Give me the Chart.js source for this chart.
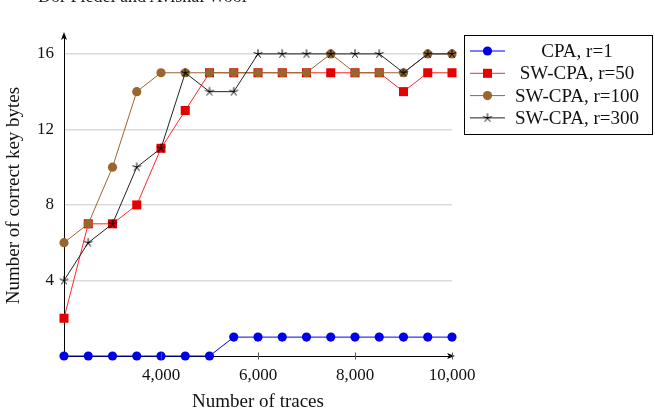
<!DOCTYPE html>
<html>
<head>
<meta charset="utf-8">
<script src="https://cdn.jsdelivr.net/npm/chart.js@4/dist/chart.umd.min.js"></script>
<style>
  html, body { margin: 0; padding: 0; background: #fff; overflow: hidden; }
  #wrap { position: relative; width: 655px; height: 416px; }
  #head { position: absolute; left: 38px; top: -12px; font: 18px 'Liberation Serif', serif; line-height: 17px; color: #222; white-space: nowrap; }
</style>
</head>
<body>
<div id="wrap">
  <canvas id="chart" width="655" height="416"></canvas>
  <div id="head">Dor Fledel and Avishai Wool</div>
</div>
<script>
// traces on the x axis
const traces = [2000, 2500, 3000, 3500, 4000, 4500, 5000, 5500, 6000, 6500, 7000, 7500, 8000, 8500, 9000, 9500, 10000];

const cpaR1     = [0, 0, 0, 0, 0, 0, 0, 1, 1, 1, 1, 1, 1, 1, 1, 1, 1];
const swCpaR50  = [2, 7, 7, 8, 11, 13, 15, 15, 15, 15, 15, 15, 15, 15, 14, 15, 15];
const swCpaR100 = [6, 7, 10, 14, 15, 15, 15, 15, 15, 15, 15, 16, 15, 15, 15, 16, 16];
const swCpaR300 = [4, 6, 7, 10, 11, 15, 14, 14, 16, 16, 16, 16, 16, 16, 15, 16, 16];

const yTicks = [4, 8, 12, 16];
const xTicks = [4000, 6000, 8000, 10000];

const FONT = "'Liberation Serif', serif";
const BLUE = 'rgb(0,0,230)';
const RED = 'rgb(230,0,0)';
const BROWN = '#99662e';

// 5-spoke asterisk like the pgfplots star mark
function makeStar() {
    const c = document.createElement('canvas');
    c.width = 12; c.height = 12;
    const g = c.getContext('2d');
    g.strokeStyle = '#000';
    g.lineWidth = 1;
    g.beginPath();
    for (let k = 0; k < 5; k++) {
        const a = -Math.PI / 2 + k * 2 * Math.PI / 5;
        g.moveTo(6, 6);
        g.lineTo(6 + 4.6 * Math.cos(a), 6 + 4.6 * Math.sin(a));
    }
    g.stroke();
    return c;
}
const star = makeStar();

const pts = (ys) => traces.map((x, i) => ({ x: x, y: ys[i] }));

const series = [
    { label: 'CPA, r=1', data: cpaR1, color: BLUE, fill: BLUE, style: 'circle', radius: 4.6, order: 4 },
    { label: 'SW-CPA, r=50', data: swCpaR50, color: 'rgb(255,40,40)', fill: RED, style: 'rect', radius: 6.4, order: 3 },
    { label: 'SW-CPA, r=100', data: swCpaR100, color: BROWN, fill: BROWN, style: 'circle', radius: 4.6, order: 2 },
    { label: 'SW-CPA, r=300', data: swCpaR300, color: '#222', fill: '#000', style: star, radius: 5, order: 1 }
];

// arrows, x tick marks and the boxed legend
const decor = {
    id: 'decor',
    afterDraw(chart) {
        const { ctx, chartArea: a } = chart;
        const xs = chart.scales.x;
        ctx.save();
        ctx.fillStyle = '#000';
        ctx.strokeStyle = '#000';
        ctx.lineWidth = 1;

        // arrow heads
        ctx.beginPath();
        ctx.moveTo(a.left, a.top - 3);
        ctx.lineTo(a.left - 3, a.top + 5);
        ctx.lineTo(a.left, a.top + 3);
        ctx.lineTo(a.left + 3, a.top + 5);
        ctx.closePath();
        ctx.fill();
        ctx.beginPath();
        ctx.moveTo(a.right + 3, a.bottom);
        ctx.lineTo(a.right - 5, a.bottom - 3);
        ctx.lineTo(a.right - 3, a.bottom);
        ctx.lineTo(a.right - 5, a.bottom + 3);
        ctx.closePath();
        ctx.fill();

        // x tick marks
        ctx.strokeStyle = '#555';
        ctx.beginPath();
        for (const v of xTicks) {
            const px = Math.round(xs.getPixelForValue(v)) + 0.5;
            ctx.moveTo(px, a.bottom - 3.5);
            ctx.lineTo(px, a.bottom + 3.5);
        }
        ctx.stroke();

        // legend
        const bx = 464.5, by = 35.5, bw = 188, bh = 99;
        ctx.fillStyle = '#fff';
        ctx.fillRect(bx, by, bw, bh);
        ctx.strokeStyle = '#000';
        ctx.strokeRect(bx, by, bw, bh);
        ctx.font = '19px ' + FONT;
        ctx.textAlign = 'center';
        ctx.textBaseline = 'middle';
        series.forEach((s, i) => {
            const y = 51 + i * 22.3;
            ctx.strokeStyle = s.color;
            ctx.lineWidth = 1;
            ctx.beginPath();
            ctx.moveTo(470, y);
            ctx.lineTo(505, y);
            ctx.stroke();
            ctx.fillStyle = s.fill;
            if (s.style === 'circle') {
                ctx.beginPath();
                ctx.arc(487.5, y, s.radius, 0, Math.PI * 2);
                ctx.fill();
            } else if (s.style === 'rect') {
                ctx.fillRect(483, y - 4.5, 9, 9);
            } else {
                ctx.drawImage(s.style, 487.5 - 6, y - 6);
            }
            ctx.fillStyle = '#111';
            ctx.fillText(s.label, 577, y + 1);
        });
        ctx.restore();
    }
};

new Chart(document.getElementById('chart').getContext('2d'), {
    type: 'line',
    data: {
        datasets: series.map(s => ({
            label: s.label,
            data: pts(s.data),
            borderColor: s.color,
            backgroundColor: s.fill,
            pointBackgroundColor: s.fill,
            pointBorderColor: s.fill,
            pointStyle: s.style,
            pointRadius: s.radius,
            pointBorderWidth: 0,
            borderWidth: 1,
            tension: 0,
            clip: false,
            order: s.order
        }))
    },
    options: {
        responsive: false,
        animation: false,
        events: [],
        layout: { padding: { top: 35, right: 203, left: 0, bottom: 0 } },
        plugins: {
            legend: { display: false },
            tooltip: { enabled: false }
        },
        scales: {
            x: {
                type: 'linear',
                min: 2000,
                max: 10000,
                afterBuildTicks: s => { s.ticks = xTicks.map(v => ({ value: v })); },
                afterFit: s => { s.height = 60; },
                grid: { display: false, drawTicks: false },
                border: { display: true, color: '#000', width: 1 },
                ticks: {
                    color: '#111',
                    padding: 9,
                    maxRotation: 0,
                    font: { family: FONT, size: 17 },
                    callback: v => v.toLocaleString('en-US')
                },
                title: { display: true, text: 'Number of traces', color: '#111', padding: { top: 4, bottom: 3 }, font: { family: FONT, size: 19 } }
            },
            y: {
                min: 0,
                max: 17,
                afterBuildTicks: s => { s.ticks = yTicks.map(v => ({ value: v })); },
                afterFit: s => { s.width = 64; },
                grid: { color: '#dadada', lineWidth: 1.5, drawTicks: false },
                border: { display: true, color: '#000', width: 1 },
                ticks: {
                    color: '#111',
                    padding: 10,
                    font: { family: FONT, size: 17 }
                },
                title: { display: true, text: 'Number of correct key bytes', color: '#111', padding: { top: 3, bottom: 4 }, font: { family: FONT, size: 19 } }
            }
        }
    },
    plugins: [decor]
});
</script>
</body>
</html>
